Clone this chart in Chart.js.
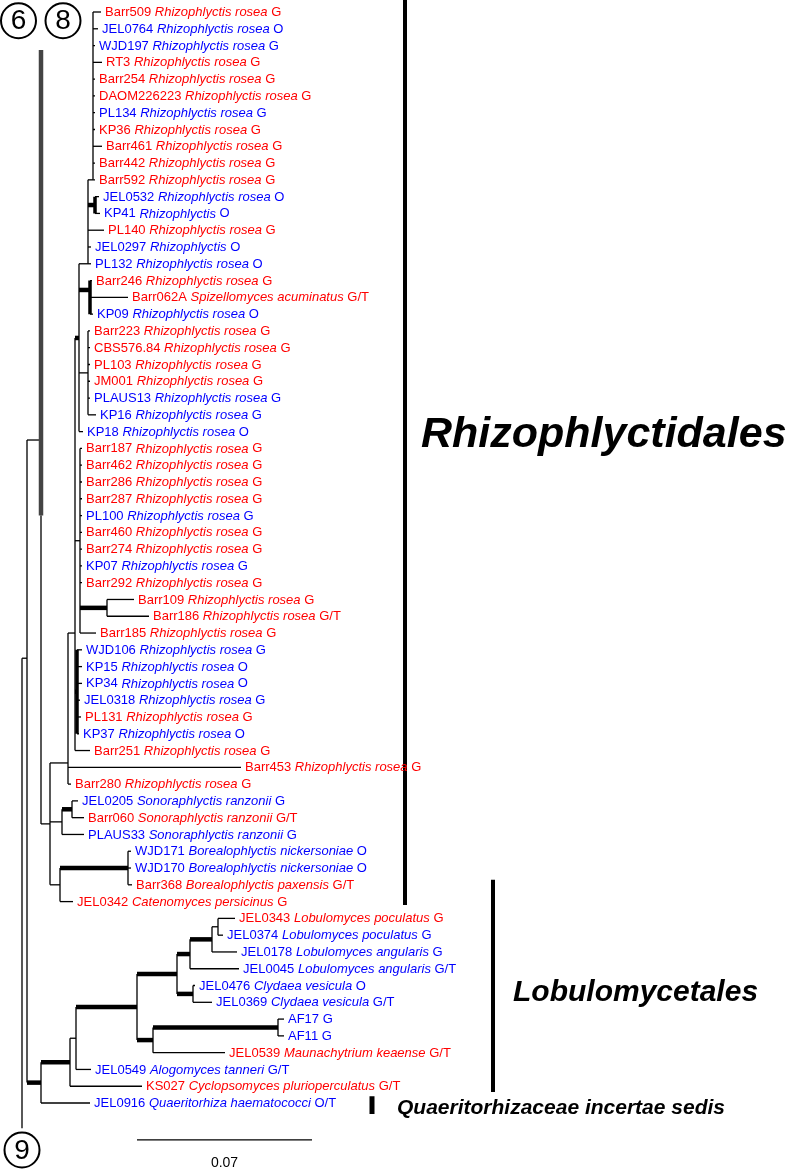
<!DOCTYPE html>
<html>
<head>
<meta charset="utf-8">
<script src="https://cdn.jsdelivr.net/npm/chart.js@4.4.1/dist/chart.umd.min.js"></script>
<style>
html, body { margin: 0; padding: 0; background: #fff; }
#wrap { width: 788px; height: 1172px; }
</style>
</head>
<body>
<div id="wrap"><canvas id="tree" width="788" height="1172"></canvas></div>
<script>
// Leaves, top to bottom (row index = position in the list)
const RR = 'Rhizophlyctis rosea';
const leafCodes = ['Barr509','JEL0764','WJD197','RT3','Barr254','DAOM226223','PL134','KP36','Barr461','Barr442',
    'Barr592','JEL0532','KP41','PL140','JEL0297','PL132','Barr246','Barr062A','KP09','Barr223',
    'CBS576.84','PL103','JM001','PLAUS13','KP16','KP18','Barr187','Barr462','Barr286','Barr287',
    'PL100','Barr460','Barr274','KP07','Barr292','Barr109','Barr186','Barr185','WJD106','KP15',
    'KP34','JEL0318','PL131','KP37','Barr251','Barr453','Barr280','JEL0205','Barr060','PLAUS33',
    'WJD171','WJD170','Barr368','JEL0342','JEL0343','JEL0374','JEL0178','JEL0045','JEL0476','JEL0369',
    'AF17','AF11','JEL0539','JEL0549','KS027','JEL0916'];
const leafTaxa = [RR,RR,RR,RR,RR,RR,RR,RR,RR,RR,
    RR,RR,'Rhizophlyctis',RR,'Rhizophlyctis',RR,RR,'Spizellomyces acuminatus',RR,RR,
    RR,RR,RR,RR,RR,RR,RR,RR,RR,RR,
    RR,RR,RR,RR,RR,RR,RR,RR,RR,RR,
    RR,RR,RR,RR,RR,RR,RR,'Sonoraphlyctis ranzonii','Sonoraphlyctis ranzonii','Sonoraphlyctis ranzonii',
    'Borealophlyctis nickersoniae','Borealophlyctis nickersoniae','Borealophlyctis paxensis','Catenomyces persicinus',
    'Lobulomyces poculatus','Lobulomyces poculatus','Lobulomyces angularis','Lobulomyces angularis','Clydaea vesicula','Clydaea vesicula',
    '','','Maunachytrium keaense','Alogomyces tanneri','Cyclopsomyces plurioperculatus','Quaeritorhiza haematococci'];
const leafStatus = ['G','O','G','G','G','G','G','G','G','G',
    'G','O','O','G','O','O','G','G/T','O','G',
    'G','G','G','G','G','O','G','G','G','G',
    'G','G','G','G','G','G','G/T','G','G','O',
    'O','G','G','O','G','G','G','G','G/T','G',
    'O','O','G/T','G','G','G','G','G/T','O','G/T',
    'G','G','G/T','G/T','G/T','O/T'];
const leafGroup = ['R','B','B','R','R','R','B','R','R','R',
    'R','B','B','R','B','B','R','R','B','R',
    'R','R','R','B','B','B','R','R','R','R',
    'B','R','R','B','R','R','R','R','B','B',
    'B','B','R','B','R','R','R','B','R','B',
    'B','B','R','R','R','B','B','B','B','B',
    'B','B','R','B','R','B'];
// tip depth (substitutions/site)
const leafTip = [0.0316,0.0304,0.0292,0.0320,0.0292,0.0292,0.0292,0.0292,0.0320,0.0292,
    0.0292,0.0308,0.0312,0.0328,0.0276,0.0276,0.0280,0.0424,0.0284,0.0272,
    0.0272,0.0272,0.0272,0.0272,0.0296,0.0244,0.0240,0.0240,0.0240,0.0240,
    0.0240,0.0240,0.0240,0.0240,0.0240,0.0448,0.0508,0.0296,0.0240,0.0240,
    0.0240,0.0232,0.0236,0.0228,0.0272,0.0876,0.0196,0.0224,0.0248,0.0248,
    0.0436,0.0436,0.0440,0.0204,0.0852,0.0804,0.0860,0.0868,0.0692,0.0760,
    0.1048,0.1048,0.0812,0.0276,0.0480,0.0272];
const leafParent = ['B','B','B','B','B','B','B','B','B','B',
    'B','JK','JK','C','C','C','F','F','F','G',
    'G','G','G','G','G','D','I','I','I','I',
    'I','I','I','I','I','BB','BB','I','K','K',
    'K','K','K','K','E','L','L','SO','SO','N',
    'BO','BO','BO','O','LA','LA','LB','LC','CL','CL',
    'AF','AF','LF','LG','LH','LI'];

// Internal nodes: depth, parent, attach row (null = middle of children), support (0 thin, 1 thick branch, 2 thick branch + stem)
const nodeIds     = ['R','P','Q','M','L','E','D','C','B','JK','F','G','I','BB','K','N','SO','O','BO',
    'LI','LH','LG','LE','LD','LC','LB','LA','CL','LF','AF'];
const nodeX       = [0,0.0020,0.0076,0.0112,0.0184,0.0212,0.0228,0.0264,0.0284,0.0292,0.0272,0.0264,0.0232,0.0340,0.0220,0.0160,0.0200,0.0152,0.0424,
    0.0076,0.0192,0.0216,0.0460,0.0620,0.0672,0.0760,0.0784,0.0684,0.0524,0.1024];
const nodeParent  = [null,'R','P','Q','M','L','E','D','C','C','D','D','E','I','E','M','N','M','O',
    'P','LI','LH','LG','LE','LD','LC','LB','LD','LE','LF'];
const nodeRow     = [null,38.5,25.5,null,44.74,37.0,19.42,15.0,10.0,11.5,16.56,null,null,null,null,null,null,null,null,
    null,null,null,null,null,null,null,null,null,null,null];
const nodeSupport = [0,0,0,0,0,0,1,0,0,2,2,0,0,1,2,0,1,0,1,
    1,1,0,1,1,1,1,0,1,1,1];

const rootStemEnd = 66.5;          // stem from the root down to circle 9
const grayStem = [2.26, 30.0];      // hollow stem on node Q
const cladeNames = ['Rhizophlyctidales', 'Lobulomycetales', 'Quaeritorhizaceae incertae sedis'];
const cladeRows  = [[-0.8, 53.2], [51.7, 64.35], [64.6, 65.65]];
const cladeBarX  = [0.1532, 0.1884, 0.1400];
const cladeTextX = [0.1596, 0.1964, 0.1500];
const cladeTextRow = [25.9, 58.9, 65.65];
const cladeFont  = [43, 30, 21];
const scaleBar = [0.046, 0.116];
const scaleRow = 67.2;
const scaleLabel = '0.07';
const circleLabels = ['6', '8', '9'];
const circleX = [-0.0014, 0.0164, 0.0000];
const circleRow = [0.52, 0.52, 67.8];

const COLORS = { R: '#ff0000', B: '#0000ff' };

// --- build tree geometry ---
const idx = {};
nodeIds.forEach((id, i) => idx[id] = i);
const childNodes = nodeIds.map(() => []);
nodeParent.forEach((p, i) => { if (p) childNodes[idx[p]].push(i); });
const leafKids = nodeIds.map(() => []);
leafParent.forEach((p, i) => leafKids[idx[p]].push(i));

const rowCache = {};
function attachRow(i) {
    if (rowCache[i] !== undefined) return rowCache[i];
    const rows = childRows(i);
    let r = nodeRow[i];
    if (r === null) r = (Math.min(...rows) + Math.max(...rows)) / 2;
    rowCache[i] = r;
    return r;
}
function childRows(i) {
    return leafKids[i].concat(childNodes[i].map(attachRow));
}

const datasets = [];
function seg(x1, y1, x2, y2, w, color) {
    datasets.push({
        data: [{ x: x1, y: y1 }, { x: x2, y: y2 }],
        showLine: true,
        borderColor: color || '#000',
        borderWidth: w,
        borderCapStyle: 'butt',
        pointRadius: 0,
        fill: false
    });
}

const THIN = 1.3, THICK = 4.5, STEM = 3.5;

// hollow stem first so tree lines sit on top
seg(nodeX[idx.Q], grayStem[0], nodeX[idx.Q], grayStem[1], 4.5, '#444');
seg(nodeX[idx.Q], grayStem[0], nodeX[idx.Q], grayStem[1], 2, '#cfcfcf');

nodeIds.forEach((id, i) => {
    const rows = childRows(i);
    const own = attachRow(i);
    let lo = Math.min(...rows, own), hi = Math.max(...rows, own);
    if (id === 'R') { lo = Math.min(...rows); hi = rootStemEnd; }
    seg(nodeX[i], lo, nodeX[i], hi, nodeSupport[i] === 2 ? STEM : THIN);
    if (nodeParent[i]) {
        const p = idx[nodeParent[i]];
        seg(nodeX[p], own, nodeX[i], own, nodeSupport[i] ? THICK : THIN);
    }
});
leafTip.forEach((tip, i) => {
    const p = idx[leafParent[i]];
    seg(nodeX[p], i, tip, i, THIN);
});

// clade bars
cladeRows.forEach((r, i) => seg(cladeBarX[i], r[0], cladeBarX[i], r[1], i === 2 ? 5 : 4));
// scale bar
seg(scaleBar[0], scaleRow, scaleBar[1], scaleRow, 1.3);

const labelPlugin = {
    id: 'labels',
    afterDatasetsDraw(chart) {
        const { ctx, scales: { x, y } } = chart;
        ctx.save();
        ctx.textBaseline = 'middle';
        ctx.textAlign = 'left';
        const FONT = '"Liberation Sans", Arial, sans-serif';
        leafCodes.forEach((code, i) => {
            let px = x.getPixelForValue(leafTip[i]) + 4;
            const py = y.getPixelForValue(i) + 0.5;
            ctx.fillStyle = COLORS[leafGroup[i]];
            ctx.font = '13px ' + FONT;
            ctx.fillText(code, px, py);
            px += ctx.measureText(code + ' ').width;
            if (leafTaxa[i]) {
                ctx.font = 'italic 13px ' + FONT;
                ctx.fillText(leafTaxa[i], px, py);
                px += ctx.measureText(leafTaxa[i] + ' ').width;
            }
            ctx.font = '13px ' + FONT;
            ctx.fillText(leafStatus[i], px, py);
        });

        // clade names
        ctx.fillStyle = '#000';
        ctx.textBaseline = 'alphabetic';
        cladeNames.forEach((name, i) => {
            ctx.font = 'italic bold ' + cladeFont[i] + 'px ' + FONT;
            ctx.fillText(name, x.getPixelForValue(cladeTextX[i]), y.getPixelForValue(cladeTextRow[i]));
        });

        // scale label
        ctx.font = '14px ' + FONT;
        ctx.textAlign = 'center';
        ctx.fillText(scaleLabel, x.getPixelForValue((scaleBar[0] + scaleBar[1]) / 2), y.getPixelForValue(scaleRow) + 27);

        // circled node numbers
        ctx.lineWidth = 2;
        ctx.strokeStyle = '#000';
        ctx.textBaseline = 'middle';
        circleLabels.forEach((t, i) => {
            const cx = x.getPixelForValue(circleX[i]), cy = y.getPixelForValue(circleRow[i]);
            ctx.beginPath();
            ctx.arc(cx, cy, 17.5, 0, Math.PI * 2);
            ctx.fillStyle = '#fff';
            ctx.fill();
            ctx.stroke();
            ctx.fillStyle = '#000';
            ctx.font = '28px ' + FONT;
            ctx.fillText(t, cx, cy + 1);
        });
        ctx.restore();
    }
};

new Chart(document.getElementById('tree'), {
    type: 'scatter',
    data: { datasets },
    options: {
        responsive: false,
        animation: false,
        devicePixelRatio: 1,
        layout: { padding: 0 },
        plugins: { legend: { display: false }, tooltip: { enabled: false } },
        scales: {
            x: { type: 'linear', min: -0.0088, max: 0.3064, display: false },
            y: { type: 'linear', min: -0.715, max: 69.11, reverse: true, display: false }
        }
    },
    plugins: [labelPlugin]
});
</script>
</body>
</html>
